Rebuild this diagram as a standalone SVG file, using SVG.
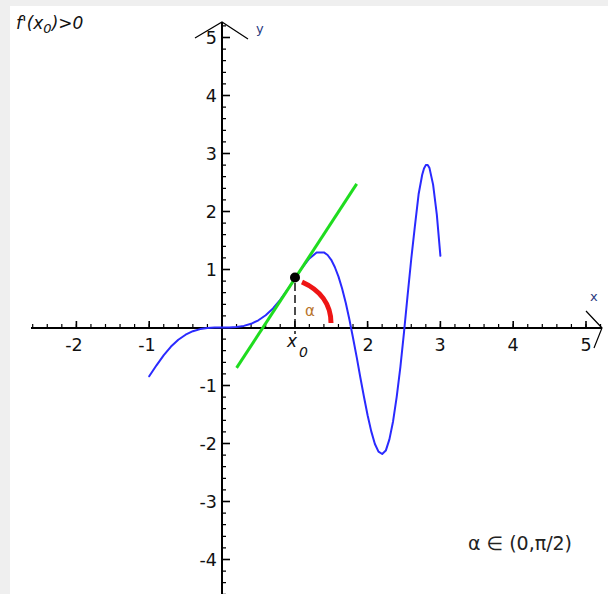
<svg xmlns="http://www.w3.org/2000/svg" width="608" height="594" viewBox="0 0 608 594">
<style>
.axis{stroke:#000;stroke-width:2;fill:none}
.arrow{stroke:#000;stroke-width:1.2;fill:none}
.tick{stroke:#000;stroke-width:1.6}
.num{font-family:"DejaVu Sans",sans-serif;font-size:17.5px;fill:#111}
.xl{text-anchor:middle}
.yl{text-anchor:end}
.it{font-family:"DejaVu Sans",sans-serif;font-style:italic;fill:#111}
</style>
<rect width="608" height="594" fill="#efefef"/>
<rect x="10" y="6" width="598" height="588" fill="#ffffff"/>
<g id="axes">
<line class="axis" x1="31" y1="328" x2="602" y2="328"/>
<line class="axis" x1="222" y1="22" x2="222" y2="594"/>
<polyline class="arrow" points="195,38 222,22 248,39"/>
<polyline class="arrow" points="586,311 602,328 594,348"/>
<line x1="32.1" y1="326" x2="602" y2="326" stroke="#000" stroke-width="4" stroke-dasharray="1.2 13.36"/>
<line x1="224" y1="25.3" x2="224" y2="594" stroke="#000" stroke-width="4" stroke-dasharray="1.2 10.4"/>
<g class="tick">
<line x1="76.4" y1="321" x2="76.4" y2="328"/>
<line x1="149.2" y1="321" x2="149.2" y2="328"/>
<line x1="294.8" y1="321" x2="294.8" y2="328"/>
<line x1="367.6" y1="321" x2="367.6" y2="328"/>
<line x1="440.4" y1="321" x2="440.4" y2="328"/>
<line x1="513.2" y1="321" x2="513.2" y2="328"/>
<line x1="586" y1="321" x2="586" y2="328"/>
<line x1="222" y1="37.5" x2="230" y2="37.5"/>
<line x1="222" y1="95.5" x2="230" y2="95.5"/>
<line x1="222" y1="153.5" x2="230" y2="153.5"/>
<line x1="222" y1="211.5" x2="230" y2="211.5"/>
<line x1="222" y1="269.5" x2="230" y2="269.5"/>
<line x1="222" y1="385.5" x2="230" y2="385.5"/>
<line x1="222" y1="443.5" x2="230" y2="443.5"/>
<line x1="222" y1="501.5" x2="230" y2="501.5"/>
<line x1="222" y1="559.5" x2="230" y2="559.5"/>
</g>
<g class="num xl">
<text x="74" y="351">-2</text>
<text x="147" y="351">-1</text>
<text x="368" y="351">2</text>
<text x="440" y="351">3</text>
<text x="513" y="351">4</text>
<text x="586" y="351">5</text>
</g>
<g class="num yl">
<text x="217" y="44">5</text>
<text x="217" y="102">4</text>
<text x="217" y="160">3</text>
<text x="217" y="218">2</text>
<text x="217" y="276">1</text>
<text x="217" y="392">-1</text>
<text x="217" y="450">-2</text>
<text x="217" y="508">-3</text>
<text x="217" y="566">-4</text>
</g>
<text x="256" y="33" font-family="DejaVu Sans,sans-serif" font-size="13" fill="#2a3a80">y</text>
<text x="590" y="301" font-family="DejaVu Sans,sans-serif" font-size="13" fill="#2a3a80">x</text>
</g>
<g id="connectors">
<polyline fill="none" stroke="#2a2aff" stroke-width="2" stroke-linejoin="round" stroke-linecap="round" points="149.2,376.3 156.5,365.3 163.8,355.2 171.0,346.6 178.3,339.8 185.6,334.7 192.9,331.2 200.2,329.1 207.4,328.0 214.7,327.6 222,327.5 229.3,327.4 236.6,327.0 243.8,325.9 251.1,323.8 258.4,320.3 265.7,315.2 273.0,308.4 280.2,299.8 287.5,289.7 294.8,278.7 302.1,267.8 309.4,258.5 316.6,252.6 323.9,252.4 327.6,255.0 331.2,259.8 334.8,267.0 338.5,276.6 342.1,288.5 345.8,303.0 349.4,319.5 353.0,337.8 356.7,357.1 360.3,377.3 364.0,397.0 367.6,415.3 371.2,431.1 374.9,444.0 378.5,451.7 382.2,454.0 385.8,450.6 389.4,439.4 393.1,421.2 396.7,396.9 400.4,366.9 404.0,332.3 407.6,295.3 411.3,258.5 414.9,226.2 418.6,194.3 422.2,174.7 424.0,168.5 425.8,165.1 427.7,165.0 429.5,168.1 433.1,184.6 436.8,214.4 440.4,255.8"/>
<line x1="236.6" y1="367.9" x2="356.7" y2="183.9" stroke="#1fdc1f" stroke-width="3"/>
<line x1="295" y1="283" x2="295" y2="334" stroke="#111" stroke-width="1.5" stroke-dasharray="8 4"/>
<path d="M302,282 C320,290 331,304 331,323" fill="none" stroke="#ee1515" stroke-width="5"/>
</g>
<g id="point-x0">
<circle cx="295" cy="277.5" r="5" fill="#000"/>
<text class="it" x="287" y="347" font-size="17">x</text>
<text class="it" x="299" y="357" font-size="14">0</text>
</g>
<g id="alpha-label">
<text x="305" y="316" font-family="DejaVu Sans,sans-serif" font-size="15" fill="#b8742c">α</text>
</g>
<g id="title">
<text class="it" x="16" y="29" font-size="17">f'(x<tspan font-size="13" dy="4">0</tspan><tspan dy="-4">)&gt;0</tspan></text>
</g>
<g id="range">
<text x="468" y="550" font-family="DejaVu Sans,sans-serif" font-size="19" fill="#222">α ∈ (0,π/2)</text>
</g>
</svg>
